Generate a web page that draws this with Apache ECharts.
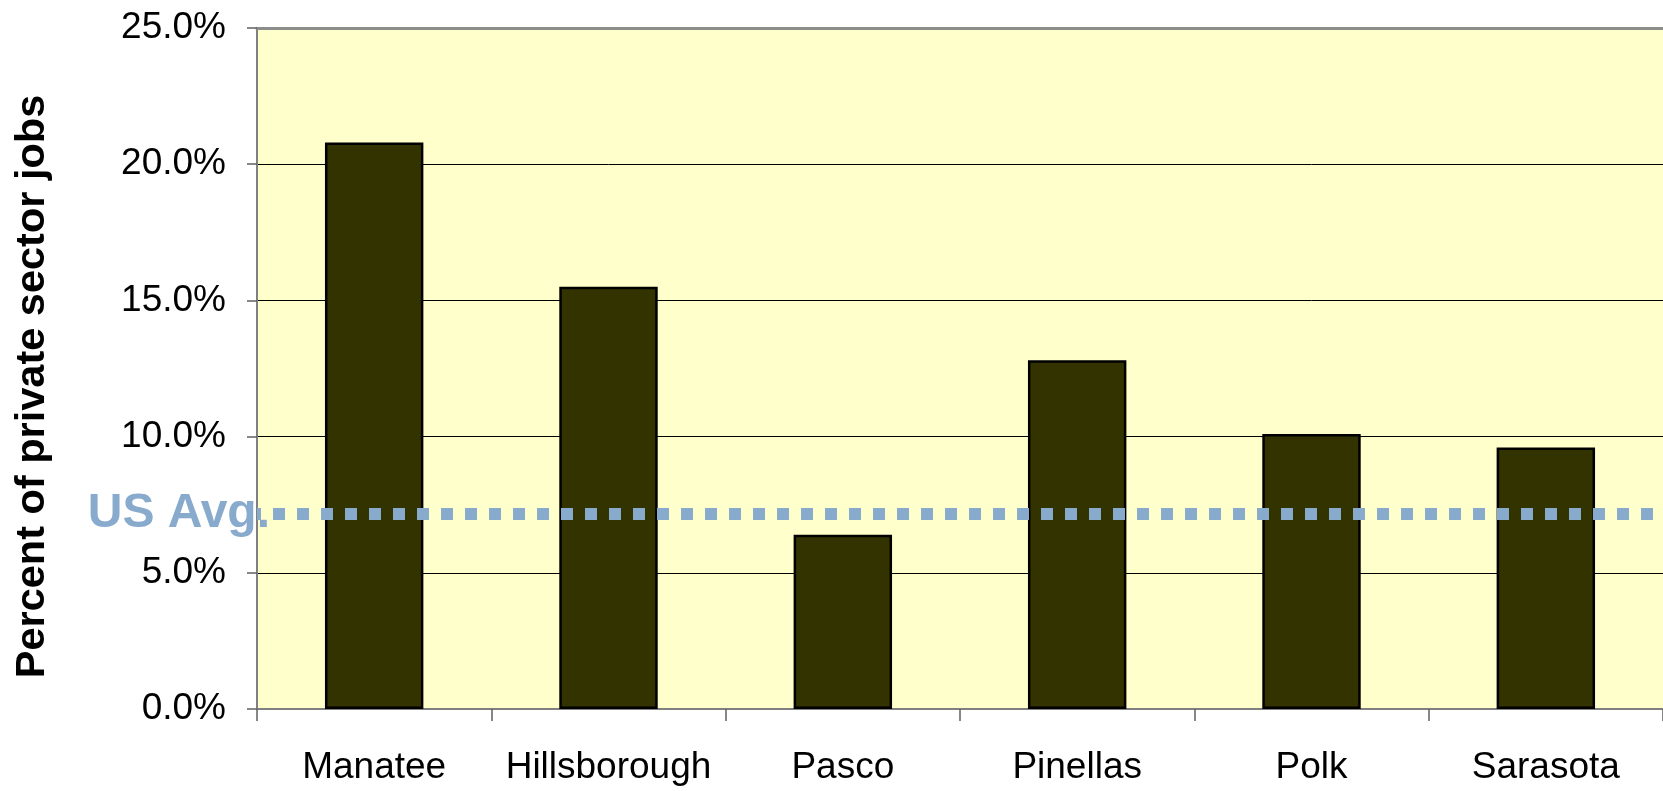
<!DOCTYPE html>
<html>
<head>
<meta charset="utf-8">
<script src="https://cdn.jsdelivr.net/npm/echarts@6/dist/echarts.min.js"></script>
<style>
html,body{margin:0;padding:0;background:#fff;}
#chart{width:1663px;height:791px;}
</style>
</head>
<body>
<div id="chart"></div>
<script>
const categories = ['Manatee', 'Hillsborough', 'Pasco', 'Pinellas', 'Polk', 'Sarasota'];
const values = [20.8, 15.5, 6.4, 12.8, 10.1, 9.6];
const usAvg = 7.15;
const usAvgLabel = 'US Avg.';
const yTitle = 'Percent of private sector jobs';

const FONT = '"Liberation Sans", Arial, sans-serif';
const chart = echarts.init(document.getElementById('chart'), null, {renderer: 'canvas'});
chart.setOption({
  animation: false,
  backgroundColor: '#ffffff',
  grid: {
    left: 257, right: 0, top: 28, bottom: 82,
    show: true, backgroundColor: '#FFFFCC', borderWidth: 0
  },
  xAxis: [{
    type: 'category',
    data: categories,
    position: 'bottom',
    axisLine: {show: true, lineStyle: {color: '#808080', width: 2}},
    axisTick: {show: true, length: 12, lineStyle: {color: '#606060', width: 1.5}},
    axisLabel: {color: '#000', fontFamily: FONT, fontSize: 37, margin: 40, interval: 0},
    splitLine: {show: false}
  }, {
    type: 'category',
    data: categories,
    position: 'top',
    axisLine: {show: true, lineStyle: {color: '#8c8c8c', width: 3}},
    axisTick: {show: false},
    axisLabel: {show: false},
    splitLine: {show: false}
  }],
  yAxis: {
    type: 'value',
    min: 0, max: 25, interval: 5,
    name: yTitle,
    nameLocation: 'middle',
    nameRotate: 90,
    nameGap: 203,
    nameTextStyle: {color: '#000', fontFamily: FONT, fontSize: 41.5, fontWeight: 'bold', padding: [0, 36, 0, 0]},
    axisLine: {show: true, lineStyle: {color: '#808080', width: 2}},
    axisTick: {show: true, length: 10, lineStyle: {color: '#606060', width: 1.5}},
    axisLabel: {color: '#000', fontFamily: FONT, fontSize: 37, margin: 31,
      formatter: v => v.toFixed(1) + '%'},
    splitLine: {show: true, lineStyle: {color: '#000', width: 1}}
  },
  series: [{
    type: 'bar',
    data: values,
    barWidth: '42%',
    itemStyle: {color: '#333300', borderColor: '#000', borderWidth: 2.5},
    markLine: {
      silent: true,
      symbol: ['none', 'none'],
      data: [{yAxis: usAvg}],
      lineStyle: {color: '#88AACC', width: 12, type: [12, 12], dashOffset: 8, cap: 'butt'},
      label: {
        show: true,
        position: 'start',
        distance: -13,
        formatter: usAvgLabel,
        color: '#88AACC',
        fontFamily: FONT,
        fontSize: 48,
        fontWeight: 'bold',
        padding: [0, 0, 44, 0]
      },
      emphasis: {disabled: true}
    }
  }]
});
</script>
</body>
</html>
